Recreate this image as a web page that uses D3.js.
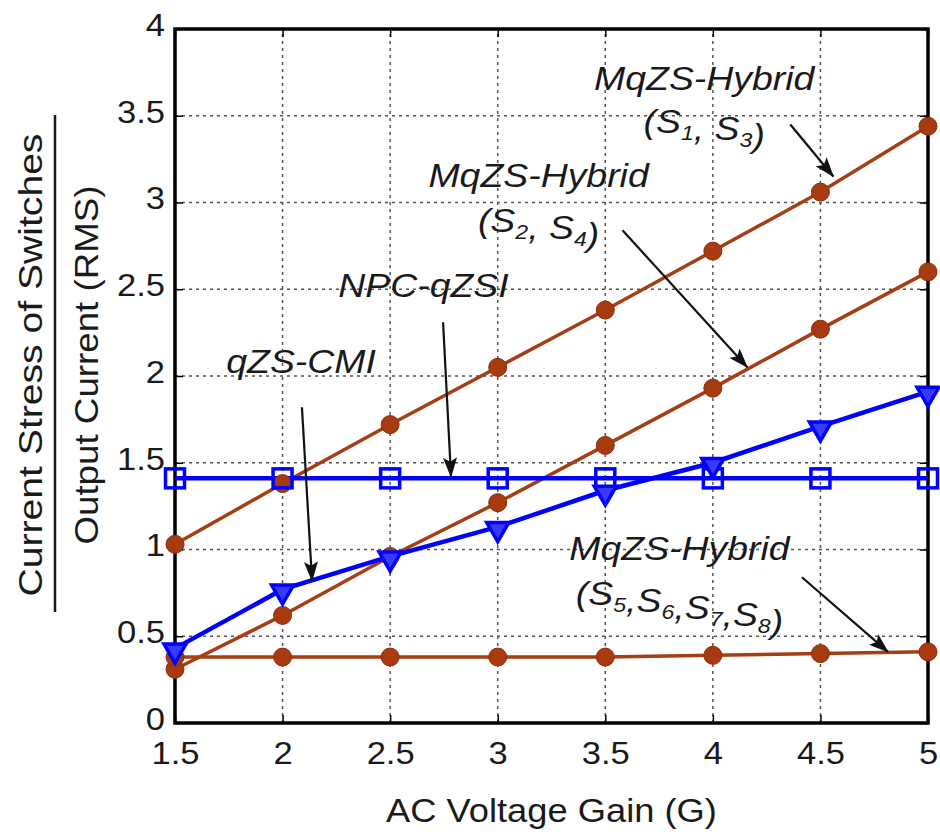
<!DOCTYPE html>
<html>
<head>
<meta charset="utf-8">
<title>Current stress of switches</title>
<style>
  html, body { margin: 0; padding: 0; background: #fff; }
  svg { display: block; }
  text { font-family: "Liberation Sans", Arial, Helvetica, sans-serif; fill: #1a1a1a; }
  .grid line { stroke: #555; stroke-width: 1.5; stroke-dasharray: 3 4; }
  .axis path, .axis line { stroke: #000; }
  .note { font-style: italic; }
</style>
</head>
<body>
<svg id="chart" width="940" height="834"></svg>
<script src="https://cdn.jsdelivr.net/npm/d3@7"></script>
<script>
// values
var gain = [1.5, 2, 2.5, 3, 3.5, 4, 4.5, 5];
var hybridS13 = [1.03, 1.38, 1.72, 2.05, 2.38, 2.72, 3.06, 3.44];
var hybridS24 = [0.31, 0.62, 0.96, 1.27, 1.60, 1.93, 2.27, 2.60];
var hybridS5678 = [0.38, 0.38, 0.38, 0.38, 0.38, 0.39, 0.40, 0.41];
var npcQzsi = [1.41, 1.41, 1.41, 1.41, 1.41, 1.41, 1.41, 1.41];
var qzsCmi = [0.43, 0.77, 0.96, 1.13, 1.34, 1.50, 1.71, 1.91];
var xTicks = [1.5, 2, 2.5, 3, 3.5, 4, 4.5, 5];
var yTicks = [0, 0.5, 1, 1.5, 2, 2.5, 3, 3.5, 4];

var brown = "#a53e12", blue = "#0000ff";

var series = [
  { values: hybridS13, color: brown, marker: "circle" },
  { values: hybridS24, color: brown, marker: "circle" },
  { values: hybridS5678, color: brown, marker: "circle" },
  { values: npcQzsi, color: blue, marker: "square" },
  { values: qzsCmi, color: blue, marker: "triangle" }
];

// annotation text + arrows, in data units
var notes = [
  { lines: [["MqZS-Hybrid"], ["(S", ["1"], ", S", ["3"], ")"]], at: [3.96, 3.648], gap: 0.248, from: [4.36, 3.45], to: [4.56, 3.15] },
  { lines: [["MqZS-Hybrid"], ["(S", ["2"], ", S", ["4"], ")"]], at: [3.19, 3.089], gap: 0.259, from: [3.58, 2.84], to: [4.16, 2.05] },
  { lines: [["NPC-qZSI"]], at: [2.655, 2.455], from: [2.746, 2.31], to: [2.783, 1.42] },
  { lines: [["qZS-CMI"]], at: [2.086, 2.017], from: [2.09, 1.82], to: [2.137, 0.82] },
  { lines: [["MqZS-Hybrid"], ["(S", ["5"], ",S", ["6"], ",S", ["7"], ",S", ["8"], ")"]], at: [3.845, 0.939], gap: 0.259, from: [4.414, 0.84], to: [4.814, 0.41] }
];

var margin = { left: 175, right: 12, top: 29, bottom: 111 };
var width = 940, height = 834;

var svg = d3.select("#chart");
var x = d3.scaleLinear().domain([1.5, 5]).range([margin.left, width - margin.right]);
var y = d3.scaleLinear().domain([0, 4]).range([height - margin.bottom, margin.top]);

// stretch text a little, the source font is wider than Arial
function stretch(sel, k) {
  sel.each(function() {
    var w = this.getComputedTextLength();
    d3.select(this).attr("textLength", w * k).attr("lengthAdjust", "spacingAndGlyphs");
  });
}

// grid
var grid = svg.append("g").attr("class", "grid");
grid.selectAll(".gx").data(xTicks.slice(1, -1)).enter().append("line")
  .attr("x1", function(d) { return x(d); }).attr("x2", function(d) { return x(d); })
  .attr("y1", y(0)).attr("y2", y(4));
grid.selectAll(".gy").data(yTicks.slice(1, -1)).enter().append("line")
  .attr("y1", function(d) { return y(d); }).attr("y2", function(d) { return y(d); })
  .attr("x1", x(1.5)).attr("x2", x(5));

// axes, ticks inside like matlab
var xb = svg.append("g").attr("class", "axis").attr("transform", "translate(0," + y(0) + ")")
  .call(d3.axisBottom(x).tickValues(xTicks).tickSizeInner(-8).tickSizeOuter(0).tickPadding(18).tickFormat(d3.format("")));
var yl = svg.append("g").attr("class", "axis").attr("transform", "translate(" + x(1.5) + ",0)")
  .call(d3.axisLeft(y).tickValues(yTicks).tickSizeInner(-8).tickSizeOuter(0).tickPadding(10).tickFormat(d3.format("")));
svg.append("g").attr("class", "axis").attr("transform", "translate(0," + y(4) + ")")
  .call(d3.axisTop(x).tickValues(xTicks).tickSizeInner(-8).tickSizeOuter(0).tickFormat(""));
svg.append("g").attr("class", "axis").attr("transform", "translate(" + x(5) + ",0)")
  .call(d3.axisRight(y).tickValues(yTicks).tickSizeInner(-8).tickSizeOuter(0).tickFormat(""));
svg.selectAll(".axis .domain").remove();
svg.selectAll(".axis line").attr("stroke-width", 1.5);

[xb, yl].forEach(function(a) {
  a.selectAll("text").attr("font-size", 32).attr("fill", "#1a1a1a");
  stretch(a.selectAll("text"), 1.08);
});
yl.selectAll("text").attr("dy", "0.2em");

// box
svg.append("rect")
  .attr("x", x(1.5)).attr("y", y(4))
  .attr("width", x(5) - x(1.5)).attr("height", y(0) - y(4))
  .attr("fill", "none").attr("stroke", "#000").attr("stroke-width", 3.5);

// lines
var line = d3.line()
  .x(function(d, i) { return x(gain[i]); })
  .y(function(d) { return y(d); });

svg.selectAll(".series").data(series).enter().append("path")
  .attr("d", function(d) { return line(d.values); })
  .attr("fill", "none")
  .attr("stroke", function(d) { return d.color; })
  .attr("stroke-width", function(d) { return d.color == blue ? 4.5 : 3.5; });

series.forEach(function(s) {
  var g = svg.append("g");
  s.values.forEach(function(v, i) {
    var cx = x(gain[i]), cy = y(v);
    if (s.marker == "circle") {
      g.append("circle").attr("cx", cx).attr("cy", cy).attr("r", 9)
        .attr("fill", "#a83a10").attr("stroke", "#8c2e0b").attr("stroke-width", 1);
    } else if (s.marker == "square") {
      g.append("rect").attr("x", cx - 9.5).attr("y", cy - 9.5).attr("width", 19).attr("height", 19)
        .attr("fill", "none").attr("stroke", blue).attr("stroke-width", 3.5);
    } else {
      g.append("path").attr("d", d3.symbol(d3.symbolTriangle, 210)())
        .attr("transform", "translate(" + cx + "," + (cy + 2) + ") rotate(180)")
        .attr("fill", "#3a3aff").attr("stroke", blue).attr("stroke-width", 3.5);
    }
  });
});

// arrowhead
svg.append("defs").append("marker")
  .attr("id", "head").attr("viewBox", "0 0 20 14").attr("refX", 19).attr("refY", 7)
  .attr("markerWidth", 20).attr("markerHeight", 14).attr("markerUnits", "userSpaceOnUse")
  .attr("orient", "auto")
  .append("path").attr("d", "M0,0 L20,7 L0,14 L4,7 Z").attr("fill", "#111");

notes.forEach(function(n) {
  svg.append("line")
    .attr("x1", x(n.from[0])).attr("y1", y(n.from[1]))
    .attr("x2", x(n.to[0])).attr("y2", y(n.to[1]))
    .attr("stroke", "#111").attr("stroke-width", 2.2).attr("marker-end", "url(#head)");
  n.lines.forEach(function(parts, li) {
    var t = svg.append("text").attr("class", "note")
      .attr("x", x(n.at[0])).attr("y", y(n.at[1] - li * (n.gap || 0)))
      .attr("text-anchor", "middle").attr("font-size", 34);
    parts.forEach(function(p) {
      if (typeof p == "string") {
        t.append("tspan").text(p);
      } else {
        t.append("tspan").attr("font-size", 21).attr("dy", 7).text(p[0]);
        t.append("tspan").attr("dy", -7).text("");
      }
    });
    stretch(t, 1.1);
  });
});

// axis titles
var xt = svg.append("text")
  .attr("x", (x(1.5) + x(5)) / 2).attr("y", 822)
  .attr("text-anchor", "middle").attr("font-size", 33)
  .text("AC Voltage Gain (G)");
stretch(xt, 1.1);

var midY = (y(0) + y(4)) / 2 - 11;
var yt1 = svg.append("text")
  .attr("transform", "translate(30," + midY + ") rotate(-90)")
  .attr("text-anchor", "middle").attr("dy", "0.35em").attr("font-size", 34)
  .text("Current Stress of Switches");
stretch(yt1, 1.15);
svg.append("line")
  .attr("x1", 55).attr("x2", 55).attr("y1", 115).attr("y2", 612)
  .attr("stroke", "#1a1a1a").attr("stroke-width", 2.5);
var yt2 = svg.append("text")
  .attr("transform", "translate(86," + midY + ") rotate(-90)")
  .attr("text-anchor", "middle").attr("dy", "0.35em").attr("font-size", 34)
  .text("Output Current (RMS)");
stretch(yt2, 1.08);
</script>
</body>
</html>
